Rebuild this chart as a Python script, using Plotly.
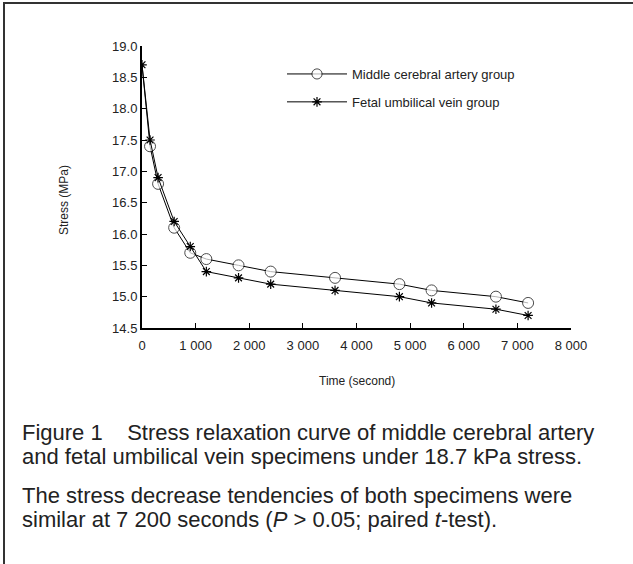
import plotly.graph_objects as go

time_s = [0, 150, 300, 600, 900, 1200, 1800, 2400, 3600, 4800, 5400, 6600, 7200]
mca_stress = [18.7, 17.4, 16.8, 16.1, 15.7, 15.6, 15.5, 15.4, 15.3, 15.2, 15.1, 15.0, 14.9]
fuv_stress = [18.7, 17.5, 16.9, 16.2, 15.8, 15.4, 15.3, 15.2, 15.1, 15.0, 14.9, 14.8, 14.7]
x_tickvals = [0, 1000, 2000, 3000, 4000, 5000, 6000, 7000, 8000]
x_ticktext = ["0", "1 000", "2 000", "3 000", "4 000", "5 000", "6 000", "7 000", "8 000"]
y_tickvals = [14.5, 15.0, 15.5, 16.0, 16.5, 17.0, 17.5, 18.0, 18.5, 19.0]

W, H = 633, 564
L, R, T, B = 142, 62, 46, 236
PW, PH = W - L - R, H - T - B

def px(x):
    return (x - L) / PW

def py(y):
    return 1 - (y - T) / PH

FONT = "Liberation Sans, Arial, sans-serif"

fig = go.Figure()
fig.add_trace(go.Scatter(
    x=time_s, y=mca_stress, mode="lines+markers", name="Middle cerebral artery group",
    legendgroup="a",
    line=dict(color="black", width=1),
    marker=dict(symbol="circle", size=[0] + [11] * (len(time_s) - 1), color="white",
                line=dict(color="black", width=1)),
))
fig.add_trace(go.Scatter(
    x=time_s, y=fuv_stress, mode="lines+markers", name="Fetal umbilical vein group",
    legendgroup="b",
    line=dict(color="black", width=1),
    marker=dict(symbol="asterisk-open", size=8, color="black",
                line=dict(color="black", width=1.2)),
))

fig.update_layout(
    width=W, height=H,
    margin=dict(l=L, r=R, t=T, b=B),
    paper_bgcolor="white", plot_bgcolor="white",
    font=dict(family=FONT, size=13, color="#222222"),
    showlegend=True,
    legend=dict(x=px(282), y=py(59), xanchor="left", yanchor="top",
                bgcolor="rgba(0,0,0,0)", font=dict(size=13), itemwidth=60,
                tracegroupgap=8),
    xaxis=dict(range=[0, 8000], tickvals=x_tickvals, ticktext=x_ticktext,
               showline=True, linecolor="black", linewidth=2, ticks="inside",
               ticklen=5, tickcolor="black", showgrid=False, zeroline=False,
               tickfont=dict(size=13), ticklabelstandoff=4),
    yaxis=dict(range=[14.5, 19.0], tickvals=y_tickvals, tickformat=".1f",
               showline=True, linecolor="black", linewidth=2, ticks="inside",
               ticklen=5, tickcolor="black", showgrid=False, zeroline=False,
               tickfont=dict(size=13)),
    shapes=[dict(type="rect", xref="paper", yref="paper",
                 x0=px(4), x1=px(W + 20), y0=py(3), y1=py(H + 20),
                 line=dict(color="#333333", width=2))],
)

ann = [
    ("Time (second)", 357, 381, "center", 12),
    ("Stress (MPa)", 64, 200, "center", 12),
    ("Figure 1    Stress relaxation curve of middle cerebral artery", 20, 432, "left", 22),
    ("and fetal umbilical vein specimens under 18.7 kPa stress.", 20, 456, "left", 22),
    ("The stress decrease tendencies of both specimens were", 20, 495, "left", 22),
    ("similar at 7 200 seconds (<i>P</i> > 0.05; paired <i>t</i>-test).", 20, 519, "left", 22),
]
for text, x, y, anchor, size in ann:
    fig.add_annotation(text=text, xref="paper", yref="paper", x=px(x), y=py(y),
                       xanchor=anchor, yanchor="middle", showarrow=False,
                       font=dict(size=size, family=FONT, color="#222222"),
                       textangle=-90 if text.startswith("Stress (") else 0)

fig.write_html("out.html")
